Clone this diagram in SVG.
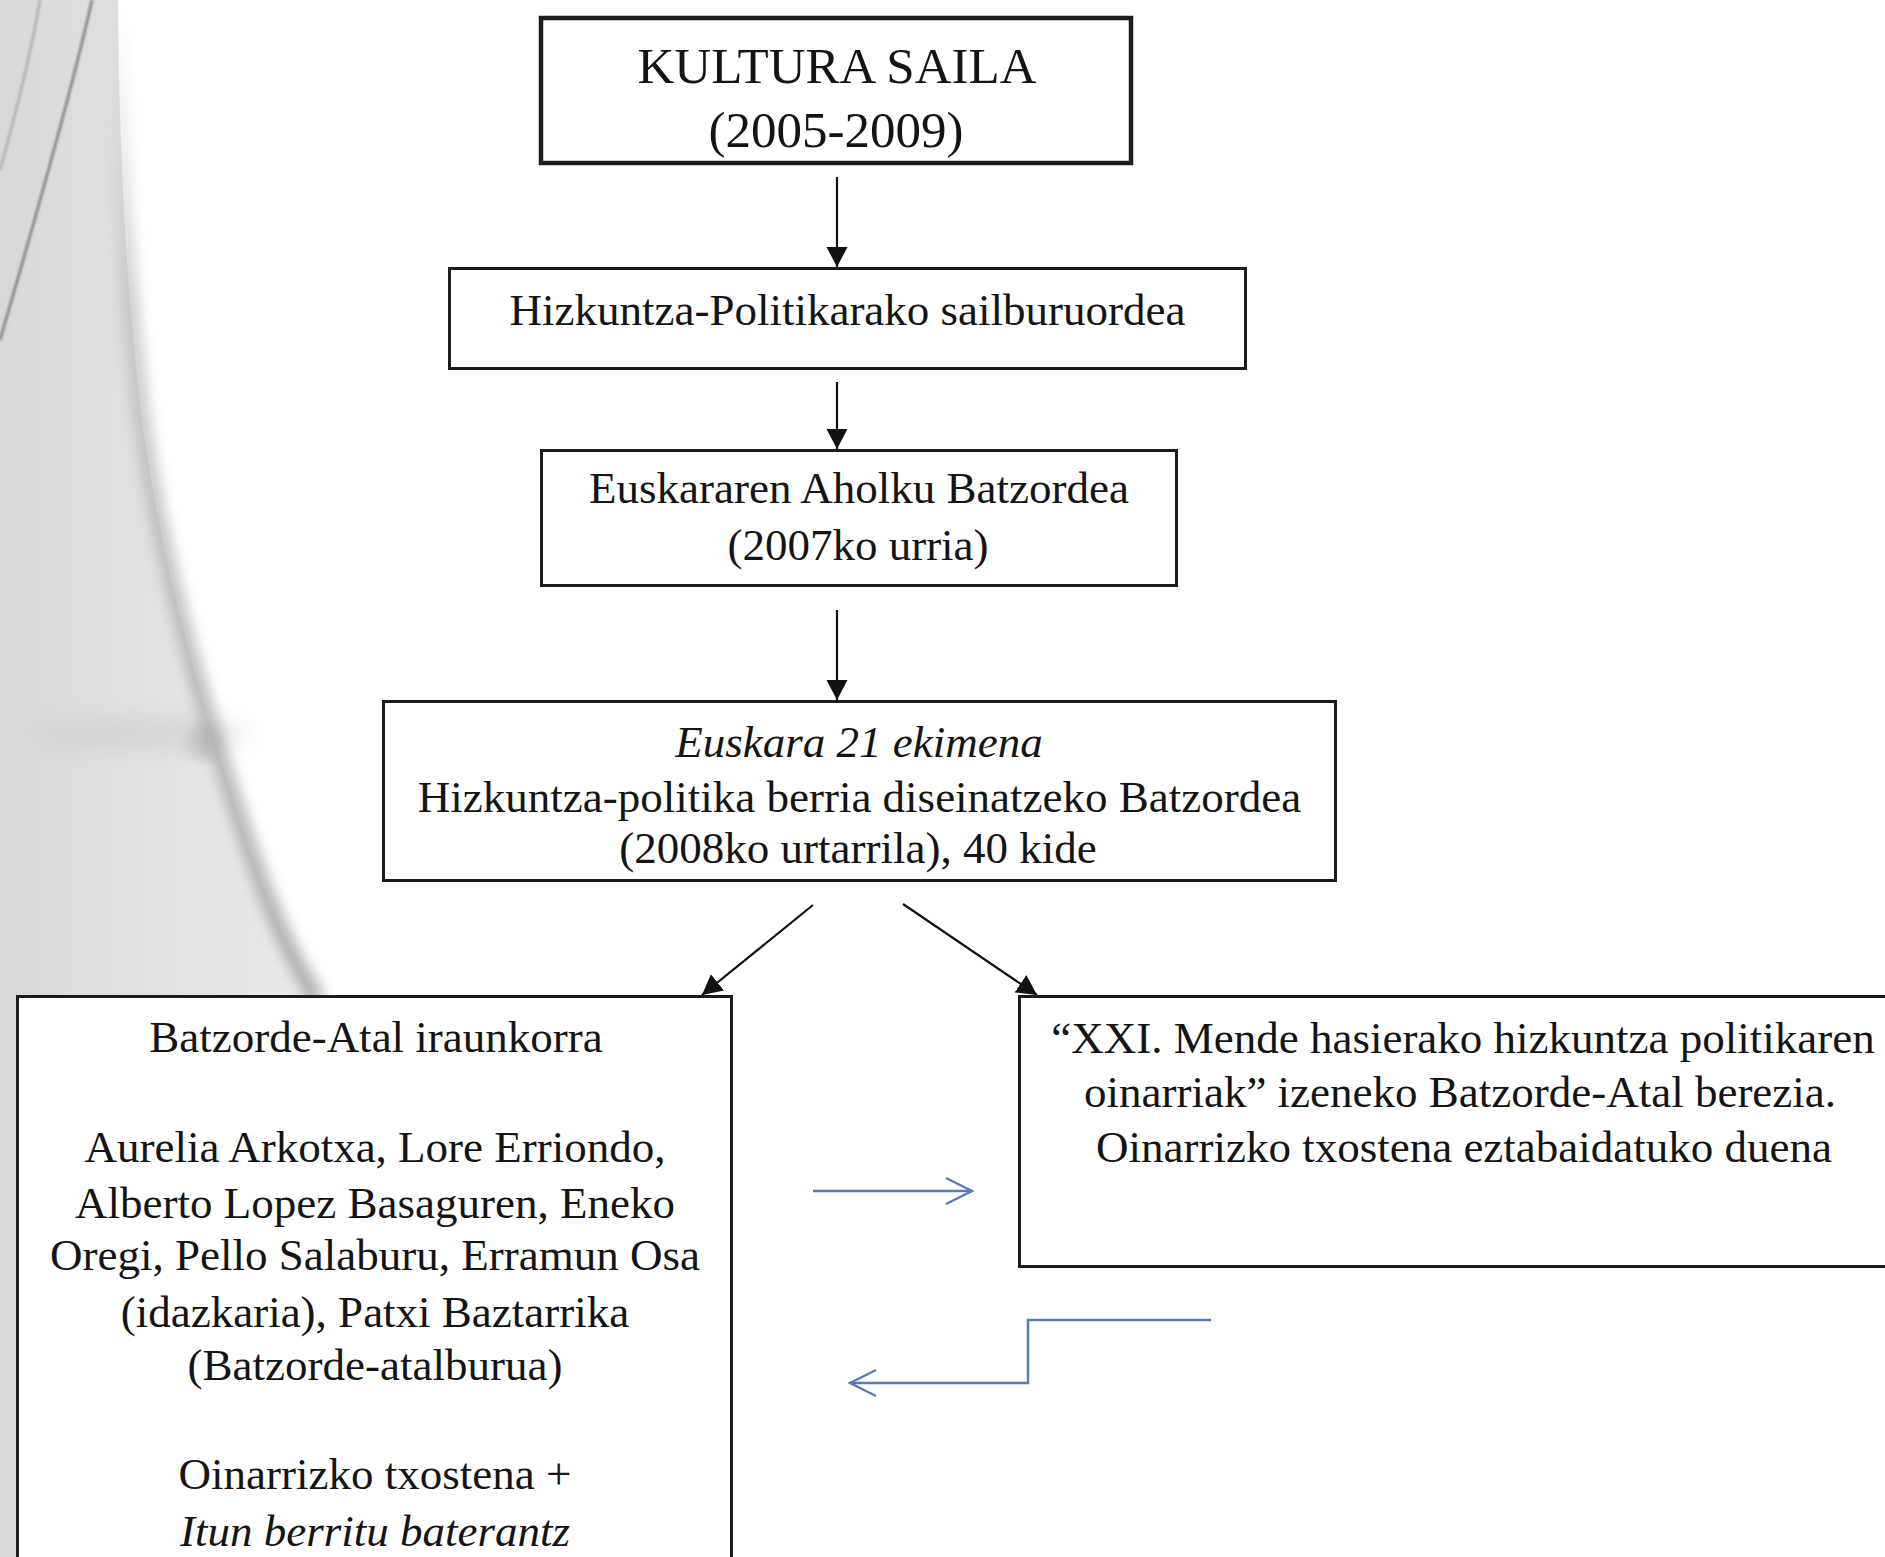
<svg xmlns="http://www.w3.org/2000/svg" width="1885" height="1557" viewBox="0 0 1885 1557">
<defs>
  <linearGradient id="bgGrad" x1="0" y1="0" x2="1" y2="0">
    <stop offset="0" stop-color="#d8d8d8"/>
    <stop offset="0.6" stop-color="#e4e4e4"/>
    <stop offset="1" stop-color="#ececec"/>
  </linearGradient>
  <linearGradient id="edgeGrad" gradientUnits="userSpaceOnUse" x1="0" y1="0" x2="0" y2="1000">
    <stop offset="0" stop-color="#cfcfcf" stop-opacity="0"/>
    <stop offset="0.3" stop-color="#bcbcbc" stop-opacity="0.8"/>
    <stop offset="1" stop-color="#a9a9a9" stop-opacity="1"/>
  </linearGradient>
  <filter id="blurBig" x="-50%" y="-10%" width="200%" height="120%"><feGaussianBlur stdDeviation="7"/></filter>
  <filter id="blurSoft" x="-50%" y="-200%" width="200%" height="500%"><feGaussianBlur stdDeviation="12"/></filter>
  <filter id="blurSmall" x="-50%" y="-10%" width="200%" height="120%"><feGaussianBlur stdDeviation="1.3"/></filter>
  <marker id="ah" markerUnits="userSpaceOnUse" viewBox="0 0 22 22" markerWidth="22" markerHeight="22" refX="20" refY="10.5" orient="auto">
    <path d="M0,0 L20,10.5 L0,21 Z" fill="#111"/>
  </marker>
  <marker id="ob" markerUnits="userSpaceOnUse" viewBox="0 0 32 32" markerWidth="32" markerHeight="32" refX="28" refY="15" orient="auto">
    <path d="M2,2 L28,15 L2,28" fill="none" stroke="#5a7db0" stroke-width="2.4"/>
  </marker>
</defs>
<style>
  .box{fill:#fff;stroke:#1c1c1c;stroke-width:3}
  .t{font-family:"Liberation Serif","Times New Roman",serif;font-size:45px;fill:#141414;text-anchor:middle}
  .i{font-style:italic}
  .conn{stroke:#111;stroke-width:2.2;fill:none}
  .blue{stroke:#5a7db0;stroke-width:2.5;fill:none}
</style>
<rect width="1885" height="1557" fill="#fff"/>

<g id="background">
  <path d="M0,0 L118,0 C119,150 126,290 142,420 C160,560 200,700 250,850 C272,915 295,965 318,1000 L330,1557 L0,1557 Z" fill="url(#bgGrad)"/>
  <path d="M118,0 C119,150 126,290 142,420 C160,560 200,700 250,850 C272,915 295,965 318,1000" fill="none" stroke="url(#edgeGrad)" stroke-width="16" filter="url(#blurBig)"/>
  <path d="M92,0 C72,90 38,210 0,340" fill="none" stroke="#8c8c8c" stroke-width="3" filter="url(#blurSmall)"/>
  <path d="M40,0 C30,60 14,120 0,170" fill="none" stroke="#b4b4b4" stroke-width="3" filter="url(#blurSmall)"/>
  <ellipse cx="140" cy="734" rx="110" ry="14" fill="#c2c2c2" opacity="0.45" filter="url(#blurSoft)"/>
  <ellipse cx="205" cy="742" rx="16" ry="18" fill="#a8a8a8" opacity="0.5" filter="url(#blurBig)"/>
</g>

<g id="connectors">
  <line class="conn" x1="837" y1="177" x2="837" y2="267" marker-end="url(#ah)"/>
  <line class="conn" x1="837" y1="382" x2="837" y2="449" marker-end="url(#ah)"/>
  <line class="conn" x1="837" y1="610" x2="837" y2="700" marker-end="url(#ah)"/>
  <line class="conn" x1="813" y1="905" x2="702" y2="995" marker-end="url(#ah)"/>
  <line class="conn" x1="903" y1="904" x2="1037" y2="995" marker-end="url(#ah)"/>
  <line class="blue" x1="813" y1="1191" x2="972" y2="1191" marker-end="url(#ob)"/>
  <polyline class="blue" points="1211,1320 1028,1320 1028,1383 850,1383" marker-end="url(#ob)"/>
</g>

<g id="node-kultura">
  <rect class="box" x="541" y="18" width="590" height="145" style="stroke-width:4.5"/>
  <text class="t" x="837" y="83" style="font-size:51px">KULTURA SAILA</text>
  <text class="t" x="836" y="147" style="font-size:51px">(2005-2009)</text>
</g>

<g id="node-sailburuordea">
  <rect class="box" x="449.5" y="268.5" width="796" height="100"/>
  <text class="t" x="847.5" y="325">Hizkuntza-Politikarako sailburuordea</text>
</g>

<g id="node-aholku">
  <rect class="box" x="541.5" y="450.5" width="635" height="135"/>
  <text class="t" x="859" y="503">Euskararen Aholku Batzordea</text>
  <text class="t" x="858" y="560">(2007ko urria)</text>
</g>

<g id="node-euskara21">
  <rect class="box" x="383.5" y="701.5" width="952" height="179"/>
  <text class="t i" x="859" y="757">Euskara 21 ekimena</text>
  <text class="t" x="859.5" y="812">Hizkuntza-politika berria diseinatzeko Batzordea</text>
  <text class="t" x="858" y="863">(2008ko urtarrila), 40 kide</text>
</g>

<g id="node-iraunkorra">
  <rect class="box" x="17.5" y="996.5" width="714" height="600"/>
  <text class="t" x="376" y="1052">Batzorde-Atal iraunkorra</text>
  <text class="t" x="375" y="1162">Aurelia Arkotxa, Lore Erriondo,</text>
  <text class="t" x="375" y="1218">Alberto Lopez Basaguren, Eneko</text>
  <text class="t" x="375" y="1270">Oregi, Pello Salaburu, Erramun Osa</text>
  <text class="t" x="375" y="1327">(idazkaria), Patxi Baztarrika</text>
  <text class="t" x="375" y="1380">(Batzorde-atalburua)</text>
  <text class="t" x="375" y="1489">Oinarrizko txostena +</text>
  <text class="t i" x="375" y="1546">Itun berritu baterantz</text>
</g>

<g id="node-berezia">
  <rect class="box" x="1019.5" y="996.5" width="900" height="270"/>
  <text class="t" x="1463" y="1053">“XXI. Mende hasierako hizkuntza politikaren</text>
  <text class="t" x="1460" y="1107">oinarriak” izeneko Batzorde-Atal berezia.</text>
  <text class="t" x="1464" y="1162">Oinarrizko txostena eztabaidatuko duena</text>
</g>
</svg>
